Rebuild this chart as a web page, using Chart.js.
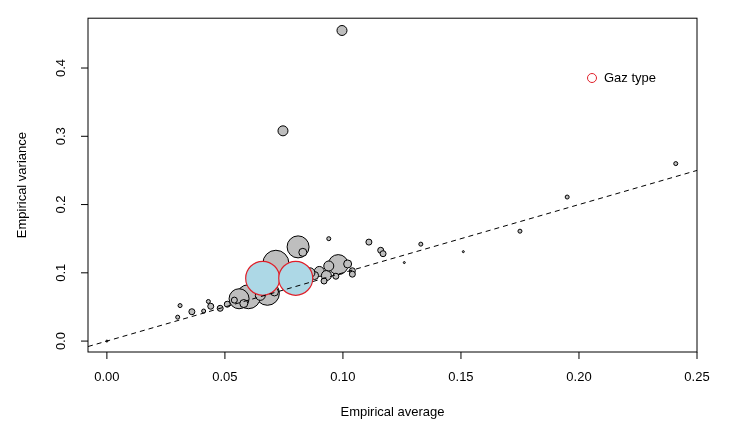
<!DOCTYPE html>
<html><head><meta charset="utf-8">
<script src="https://cdn.jsdelivr.net/npm/chart.js@4.4.0/dist/chart.umd.min.js"></script>
<style>body{margin:0;background:#fff}#wrap{width:729px;height:427px}</style>
</head><body><div id="wrap"><canvas id="c"></canvas></div>
<script>
// gray points: [average, variance, radius]
const grayX = [0.0996,0.0746,0.081,0.0716,0.098,0.068,0.060,0.056,0.083,0.090,0.093,0.094,0.088,0.102,0.104,0.111,0.116,0.117,0.133,0.126,0.151,0.175,0.195,0.241,0.094,0.104,0.036,0.031,0.030,0.041,0.043,0.048,0.044,0.051,0.054,0.058,0.064,0.076,0.086,0.092,0.097,0.0,0.065,0.071];
const grayY = [0.455,0.308,0.138,0.114,0.112,0.070,0.065,0.062,0.130,0.102,0.096,0.110,0.096,0.113,0.103,0.145,0.133,0.128,0.142,0.115,0.131,0.161,0.211,0.260,0.150,0.098,0.043,0.052,0.035,0.044,0.058,0.048,0.051,0.054,0.060,0.055,0.075,0.081,0.100,0.088,0.095,0.0,0.067,0.072];
const grayR = [5,5,11,13,10,12,12,10,4,5,5,5,4,4,3,3,3,3,2,1,1,2,2,2,2,3,3,2,2,2,2,3,3,3,3,4,4,4,5,3,3,1,5,4];
const gazX = [0.066,0.080];
const gazY = [0.092,0.092];
const gazR = [17,17];
const xTicks = [0,0.05,0.10,0.15,0.20,0.25];
const yTicks = [0,0.1,0.2,0.3,0.4];

const pts = (xs, ys, rs) => xs.map((x, i) => ({x: x, y: ys[i], r: rs[i]}));

const rStyle = {
  id: 'rStyle',
  afterDraw(chart) {
    const {ctx, chartArea: a, scales: {x, y}} = chart;
    ctx.save();
    ctx.strokeStyle = '#000'; ctx.lineWidth = 1;
    ctx.strokeRect(a.left, a.top, a.right - a.left, a.bottom - a.top);
    ctx.fillStyle = '#000'; ctx.font = '13px "Liberation Sans", Arial';
    xTicks.forEach(v => {
      const px = x.getPixelForValue(v);
      ctx.beginPath(); ctx.moveTo(px, a.bottom); ctx.lineTo(px, a.bottom + 7); ctx.stroke();
      ctx.textAlign = 'center'; ctx.textBaseline = 'top';
      ctx.fillText(v.toFixed(2), px, a.bottom + 19);
    });
    yTicks.forEach(v => {
      const py = y.getPixelForValue(v);
      ctx.beginPath(); ctx.moveTo(a.left, py); ctx.lineTo(a.left - 7, py); ctx.stroke();
      ctx.save(); ctx.translate(a.left - 20, py); ctx.rotate(-Math.PI / 2);
      ctx.textAlign = 'center'; ctx.textBaseline = 'bottom';
      ctx.fillText(v.toFixed(1), 0, 0); ctx.restore();
    });
    ctx.textAlign = 'center'; ctx.textBaseline = 'middle';
    ctx.fillText('Empirical average', (a.left + a.right) / 2, 412);
    ctx.save(); ctx.translate(22, (a.top + a.bottom) / 2); ctx.rotate(-Math.PI / 2);
    ctx.fillText('Empirical variance', 0, 0); ctx.restore();
    // legend
    ctx.beginPath(); ctx.arc(592, 78, 4.5, 0, 2 * Math.PI);
    ctx.strokeStyle = '#e0202a'; ctx.stroke();
    ctx.textAlign = 'left'; ctx.fillText('Gaz type', 604, 78);
    ctx.restore();
  }
};

new Chart(document.getElementById('c'), {
  type: 'bubble',
  data: {
    datasets: [
      {type: 'line', data: [{x: -0.008, y: -0.008}, {x: 0.25, y: 0.25}], borderColor: '#000',
       borderWidth: 1, borderDash: [5, 4], pointRadius: 0, order: 0},
      {data: pts(grayX, grayY, grayR), backgroundColor: '#bebebe', borderColor: '#000', borderWidth: 1, order: 2},
      {data: pts(gazX, gazY, gazR), backgroundColor: '#add8e6', borderColor: '#e0202a', borderWidth: 1.2, order: 1}
    ]
  },
  options: {
    animation: false, responsive: true, maintainAspectRatio: false,
    layout: {padding: {top: 12, right: 32}},
    plugins: {legend: {display: false}, tooltip: {enabled: false}},
    scales: {
      x: {type: 'linear', min: -0.008, max: 0.25, grid: {display: false}, border: {display: false},
          ticks: {display: false}, afterFit: s => { s.height = 75; }},
      y: {type: 'linear', min: -0.016, max: 0.473, grid: {display: false}, border: {display: false},
          ticks: {display: false}, afterFit: s => { s.width = 88; }}
    }
  },
  plugins: [rStyle]
});
</script></body></html>
